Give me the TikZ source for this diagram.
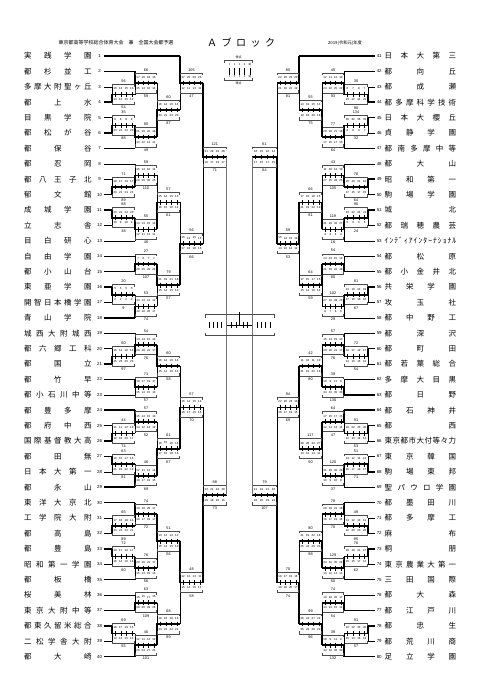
\documentclass[tikz,border=0pt]{standalone}
\usepackage{fontspec}
\setmainfont{Liberation Sans}
\newfontfamily\jp{Noto Sans CJK JP}
\def\sprfirst#1{#1\sprrest}
\def\sprrest#1{\ifx\relax#1\else\hfill#1\expandafter\sprrest\fi}
\tikzset{
 thinl/.style={line width=0.55pt,black},
 thickl/.style={line width=1.6pt,black},
 grayl/.style={line width=0.6pt,black!55},
 boxl/.style={line width=0.4pt,black!70},
 tickl/.style={line width=0.45pt,black},
 qdig/.style={font=\fontsize{2.9}{2.9}\selectfont,inner sep=0},
 sc/.style={font=\fontsize{3.8}{3.8}\selectfont,inner sep=0},
 num/.style={font=\fontsize{4.4}{4.4}\selectfont,inner sep=0},
 nm/.style={font=\jp\fontsize{7.5}{7.5}\selectfont,inner sep=0}
}
\newcommand\teamL[5]{%
 \node[nm,anchor=west] (n#1) at (24,#3) {\hbox to 67.5pt{\sprfirst#2\relax}};
 \node[num] (t#1) at (99.5,#3) {#1};
 \ifnum#5=1 \draw[thickl] (104,#3) -- (#4,#3);\else\draw[thinl] (104,#3) -- (#4,#3);\fi}
\newcommand\teamR[5]{%
 \node[nm,anchor=west] (n#1) at (384.5,#3) {\hbox to 71.5pt{\sprfirst#2\relax}};
 \node[num] (t#1) at (379.2,#3) {#1};
 \ifnum#5=1 \draw[thickl] (374.5,#3) -- (#4,#3);\else\draw[thinl] (374.5,#3) -- (#4,#3);\fi}
\newcommand\qscores[2]{%
 \pgfmathtruncatemacro\qqa{round(#1*0.26)}%
 \pgfmathtruncatemacro\qqb{round(#1*0.24)}%
 \pgfmathtruncatemacro\qqc{round(#1*0.27)}%
 \pgfmathtruncatemacro\qqd{#1-\qqa-\qqb-\qqc}%
 \node[qdig] at ({\mxl+0.14*\mxw},{#2}) {\qqa};
 \node[qdig] at ({\mxl+0.38*\mxw},{#2}) {\qqb};
 \node[qdig] at ({\mxl+0.62*\mxw},{#2}) {\qqc};
 \node[qdig] at ({\mxl+0.86*\mxw},{#2}) {\qqd};}
\newcommand\matchbox[8]{%
 \pgfmathsetmacro\mxl{min(#1,#2)}%
 \pgfmathsetmacro\mxr{max(#1,#2)}%
 \pgfmathsetmacro\mxw{\mxr-\mxl}%
 \draw[thinl] (#1,#3) -- (#1,#4);
 \ifnum#8=1 \draw[thickl] (#1,#3) -- (#1,#5) -- (#2,#5);\else\draw[thickl] (#1,#4) -- (#1,#5) -- (#2,#5);\fi
 \draw[boxl] ({\mxl+0.5},{#5-7.8}) -- ({\mxl+0.5},{#5-10.2}) -- ({\mxr-0.5},{#5-10.2}) -- ({\mxr-0.5},{#5-7.8});
 \draw[boxl] ({\mxl+0.5},{#5+7.4}) -- ({\mxl+0.5},{#5+9.8}) -- ({\mxr-0.5},{#5+9.8}) -- ({\mxr-0.5},{#5+7.4});
 \foreach \f in {0.14,0.38,0.62,0.86} \draw[tickl] ({\mxl+\f*\mxw},{#5-2.4}) -- ({\mxl+\f*\mxw},{#5+2.4});
 \qscores{#6}{#5-5.7}
 \qscores{#7}{#5+5.2}
 \node[sc] at ({(\mxl+\mxr)/2},{#5-13.2}) {#6};
 \node[sc] at ({(\mxl+\mxr)/2},{#5+13.2}) {#7};}
\begin{document}
\begin{tikzpicture}[x=1pt,y=-1pt]
\fill[white] (0,0) rectangle (481,680);
\useasboundingbox (0,0) rectangle (481,680);
% header
\node[font=\jp\fontsize{5}{5}\selectfont,inner sep=0] (hd1) at (116,43) {東京都高等学校総合体育大会　兼　全国大会都予選};
\node[inner sep=0] (hd2) at (241,42.3) {\jp\fontsize{10}{10}\selectfont\hbox to 68pt{\sprfirst Ａブロック\relax}};
\node[inner sep=0,font=\jp\fontsize{4.3}{4.3}\selectfont] (hd3) at (345,43) {2019(令和元)年度};
% legend
\draw[boxl] (224.5,62.5) -- (224.5,60) -- (252.5,60) -- (252.5,62.5);
\draw[boxl] (224.5,77.5) -- (224.5,80) -- (252.5,80) -- (252.5,77.5);
\node[font=\jp\fontsize{3}{3}\selectfont,inner sep=0] (lg1) at (238.5,57) {得点};
\node[font=\jp\fontsize{3}{3}\selectfont,inner sep=0] (lg2) at (238.5,83.3) {得点};
\foreach \x/\t in {229.7/1,234.7/2,239.7/3,244.7/4,250/延} {
 \node[font=\jp\fontsize{2.6}{2.6}\selectfont,inner sep=0] at (\x,65) {\t};
 \draw[tickl] (\x,67.5) -- (\x,74.5);
 \node[font=\jp\fontsize{2.6}{2.6}\selectfont,inner sep=0] at (\x,77) {\t};}
% left teams
\teamL{1}{実践学園}{56.0}{180}{1}
\teamL{2}{都杉並工}{71.4}{135}{1}
\teamL{3}{多摩大附聖ヶ丘}{86.8}{112}{0}
\teamL{4}{都上水}{102.2}{112}{1}
\teamL{5}{目黒学院}{117.6}{112}{0}
\teamL{6}{都松が谷}{133.0}{112}{1}
\teamL{7}{都保谷}{148.4}{135}{0}
\teamL{8}{都忍岡}{163.8}{135}{0}
\teamL{9}{都八王子北}{179.2}{112}{0}
\teamL{10}{郁文館}{194.6}{112}{1}
\teamL{11}{成城学園}{210.0}{112}{1}
\teamL{12}{立志舎}{225.4}{112}{0}
\teamL{13}{目白研心}{240.8}{135}{0}
\teamL{14}{自由学園}{256.2}{135}{0}
\teamL{15}{都小山台}{271.6}{135}{1}
\teamL{16}{東亜学園}{287.0}{112}{1}
\teamL{17}{開智日本橋学園}{302.4}{112}{0}
\teamL{18}{青山学院}{317.8}{135}{1}
\teamL{19}{城西大附城西}{333.2}{135}{0}
\teamL{20}{都六郷工科}{348.6}{112}{0}
\teamL{21}{都国立}{364.0}{112}{1}
\teamL{22}{都竹早}{379.4}{135}{1}
\teamL{23}{都小石川中等}{394.8}{135}{0}
\teamL{24}{都豊多摩}{410.2}{135}{1}
\teamL{25}{都府中西}{425.6}{112}{0}
\teamL{26}{国際基督教大高}{441.0}{112}{1}
\teamL{27}{都田無}{456.4}{112}{1}
\teamL{28}{日本大第一}{471.8}{112}{0}
\teamL{29}{都永山}{487.2}{135}{1}
\teamL{30}{東洋大京北}{502.6}{135}{1}
\teamL{31}{工学院大附}{518.0}{112}{0}
\teamL{32}{都高島}{533.4}{112}{1}
\teamL{33}{都豊島}{548.8}{112}{1}
\teamL{34}{昭和第一学園}{564.2}{112}{0}
\teamL{35}{都板橋}{579.6}{135}{0}
\teamL{36}{桜美林}{595.0}{135}{0}
\teamL{37}{東京大附中等}{610.4}{135}{1}
\teamL{38}{都東久留米総合}{625.8}{112}{1}
\teamL{39}{二松学舎大附}{641.2}{112}{0}
\teamL{40}{都大崎}{656.6}{135}{1}
% right teams
\teamR{41}{日本大第三}{56.0}{299}{1}
\teamR{42}{都向丘}{71.4}{344}{0}
\teamR{43}{都成瀬}{86.8}{368}{0}
\teamR{44}{都多摩科学技術}{102.2}{368}{1}
\teamR{45}{日本大櫻丘}{117.6}{368}{1}
\teamR{46}{貞静学園}{133.0}{368}{0}
\teamR{47}{都南多摩中等}{148.4}{344}{0}
\teamR{48}{都大山}{163.8}{344}{0}
\teamR{49}{昭和第一}{179.2}{368}{1}
\teamR{50}{駒場学園}{194.6}{368}{0}
\teamR{51}{城北}{210.0}{368}{1}
\teamR{52}{都瑞穂農芸}{225.4}{368}{0}
\teamR{53}{ｲﾝﾃﾞｨｱｲﾝﾀｰﾅｼｮﾅﾙ}{240.8}{344}{0}
\teamR{54}{都松原}{256.2}{344}{0}
\teamR{55}{都小金井北}{271.6}{344}{1}
\teamR{56}{共栄学園}{287.0}{368}{1}
\teamR{57}{攻玉社}{302.4}{368}{0}
\teamR{58}{都中野工}{317.8}{344}{0}
\teamR{59}{都深沢}{333.2}{344}{0}
\teamR{60}{都町田}{348.6}{368}{1}
\teamR{61}{都若葉総合}{364.0}{368}{0}
\teamR{62}{多摩大目黒}{379.4}{344}{0}
\teamR{63}{都日野}{394.8}{344}{1}
\teamR{64}{都石神井}{410.2}{344}{1}
\teamR{65}{都西}{425.6}{368}{1}
\teamR{66}{東京都市大付等々力}{441.0}{368}{0}
\teamR{67}{東京韓国}{456.4}{368}{0}
\teamR{68}{駒場東邦}{471.8}{368}{1}
\teamR{69}{聖パウロ学園}{487.2}{344}{0}
\teamR{70}{都墨田川}{502.6}{344}{1}
\teamR{71}{都多摩工}{518.0}{368}{0}
\teamR{72}{麻布}{533.4}{368}{1}
\teamR{73}{桐朋}{548.8}{368}{1}
\teamR{74}{東京農業大第一}{564.2}{368}{0}
\teamR{75}{三田国際}{579.6}{344}{0}
\teamR{76}{都大森}{595.0}{344}{0}
\teamR{77}{都江戸川}{610.4}{344}{1}
\teamR{78}{都忠生}{625.8}{368}{1}
\teamR{79}{都荒川商}{641.2}{368}{0}
\teamR{80}{足立学園}{656.6}{344}{1}
% left matches
\matchbox{112}{135}{86.8}{102.2}{94.5}{56}{54}{2}
\matchbox{135}{157}{71.4}{94.5}{83.0}{66}{59}{1}
\matchbox{112}{135}{117.6}{133.0}{125.3}{35}{88}{2}
\matchbox{135}{157}{125.3}{148.4}{136.9}{80}{49}{1}
\matchbox{157}{180}{83.0}{136.9}{110.0}{60}{87}{2}
\matchbox{180}{203}{56.0}{110.0}{83.0}{105}{47}{1}
\matchbox{112}{135}{179.2}{194.6}{186.9}{71}{89}{2}
\matchbox{135}{157}{163.8}{186.9}{175.4}{59}{110}{2}
\matchbox{112}{135}{210.0}{225.4}{217.7}{88}{38}{1}
\matchbox{135}{157}{217.7}{240.8}{229.3}{55}{46}{1}
\matchbox{157}{180}{175.4}{229.3}{202.3}{57}{61}{2}
\matchbox{135}{157}{256.2}{271.6}{263.9}{27}{107}{2}
\matchbox{112}{135}{287.0}{302.4}{294.7}{20}{9}{1}
\matchbox{135}{157}{294.7}{317.8}{306.3}{53}{74}{2}
\matchbox{157}{180}{263.9}{306.3}{285.1}{79}{57}{1}
\matchbox{180}{203}{202.3}{285.1}{243.7}{56}{66}{2}
\matchbox{203}{226.5}{83.0}{243.7}{157}{121}{71}{1}
\matchbox{112}{135}{348.6}{364.0}{356.3}{60}{97}{2}
\matchbox{135}{157}{333.2}{356.3}{344.8}{54}{76}{2}
\matchbox{135}{157}{379.4}{394.8}{387.1}{71}{57}{1}
\matchbox{157}{180}{344.8}{387.1}{366.0}{60}{58}{1}
\matchbox{112}{135}{425.6}{441.0}{433.3}{44}{74}{2}
\matchbox{135}{157}{410.2}{433.3}{421.8}{57}{52}{1}
\matchbox{112}{135}{456.4}{471.8}{464.1}{63}{81}{1}
\matchbox{135}{157}{464.1}{487.2}{475.7}{46}{69}{2}
\matchbox{157}{180}{421.8}{475.7}{448.7}{61}{67}{2}
\matchbox{180}{203}{366.0}{448.7}{407.4}{57}{70}{2}
\matchbox{112}{135}{518.0}{533.4}{525.7}{65}{89}{2}
\matchbox{135}{157}{502.6}{525.7}{514.2}{74}{72}{1}
\matchbox{112}{135}{548.8}{564.2}{556.5}{72}{60}{1}
\matchbox{135}{157}{556.5}{579.6}{568.1}{76}{56}{1}
\matchbox{157}{180}{514.2}{568.1}{541.2}{51}{56}{1}
\matchbox{135}{157}{595.0}{610.4}{602.7}{63}{109}{2}
\matchbox{112}{135}{625.8}{641.2}{633.5}{69}{55}{1}
\matchbox{135}{157}{633.5}{656.6}{645.1}{46}{101}{2}
\matchbox{157}{180}{602.7}{645.1}{623.9}{68}{89}{2}
\matchbox{180}{203}{541.2}{623.9}{582.6}{48}{58}{1}
\matchbox{203}{226.5}{407.4}{582.6}{495.0}{88}{73}{2}
% right matches
\matchbox{368}{344}{86.8}{102.2}{94.5}{30}{90}{2}
\matchbox{344}{322}{71.4}{94.5}{83.0}{45}{93}{2}
\matchbox{368}{344}{117.6}{133.0}{125.3}{134}{32}{1}
\matchbox{344}{322}{125.3}{148.4}{136.9}{77}{64}{1}
\matchbox{322}{299}{83.0}{136.9}{110.0}{55}{75}{2}
\matchbox{299}{277}{56.0}{110.0}{83.0}{85}{81}{1}
\matchbox{368}{344}{179.2}{194.6}{186.9}{78}{64}{1}
\matchbox{344}{322}{163.8}{186.9}{175.4}{43}{105}{2}
\matchbox{368}{344}{210.0}{225.4}{217.7}{90}{24}{1}
\matchbox{344}{322}{217.7}{240.8}{229.3}{119}{16}{1}
\matchbox{322}{299}{175.4}{229.3}{202.3}{66}{81}{2}
\matchbox{344}{322}{256.2}{271.6}{263.9}{54}{80}{2}
\matchbox{368}{344}{287.0}{302.4}{294.7}{81}{67}{1}
\matchbox{344}{322}{294.7}{317.8}{306.3}{102}{29}{1}
\matchbox{322}{299}{263.9}{306.3}{285.1}{64}{59}{1}
\matchbox{299}{277}{202.3}{285.1}{243.7}{59}{53}{1}
\matchbox{277}{252}{83.0}{243.7}{157}{61}{64}{2}
\matchbox{368}{344}{348.6}{364.0}{356.3}{72}{54}{1}
\matchbox{344}{322}{333.2}{356.3}{344.8}{57}{76}{2}
\matchbox{344}{322}{379.4}{394.8}{387.1}{39}{130}{2}
\matchbox{322}{299}{344.8}{387.1}{366.0}{42}{80}{2}
\matchbox{368}{344}{425.6}{441.0}{433.3}{91}{53}{1}
\matchbox{344}{322}{410.2}{433.3}{421.8}{64}{47}{1}
\matchbox{368}{344}{456.4}{471.8}{464.1}{51}{71}{2}
\matchbox{344}{322}{464.1}{487.2}{475.7}{120}{37}{1}
\matchbox{322}{299}{421.8}{475.7}{448.7}{117}{50}{1}
\matchbox{299}{277}{366.0}{448.7}{407.4}{84}{69}{1}
\matchbox{368}{344}{518.0}{533.4}{525.7}{49}{85}{2}
\matchbox{344}{322}{502.6}{525.7}{514.2}{78}{70}{1}
\matchbox{368}{344}{548.8}{564.2}{556.5}{76}{62}{1}
\matchbox{344}{322}{556.5}{579.6}{568.1}{129}{50}{1}
\matchbox{322}{299}{514.2}{568.1}{541.2}{80}{98}{2}
\matchbox{344}{322}{595.0}{610.4}{602.7}{74}{54}{2}
\matchbox{368}{344}{625.8}{641.2}{633.5}{91}{57}{1}
\matchbox{344}{322}{633.5}{656.6}{645.1}{39}{132}{2}
\matchbox{322}{299}{602.7}{645.1}{623.9}{99}{96}{2}
\matchbox{299}{277}{541.2}{623.9}{582.6}{70}{74}{2}
\matchbox{277}{252}{407.4}{582.6}{495.0}{79}{107}{2}
% final
\draw[grayl] (226.5,157) -- (226.5,495);
\draw[grayl] (252,157) -- (252,495);
\draw[boxl] (205,317.5) -- (205,314.5) -- (274,314.5) -- (274,317.5);
\draw[boxl] (205,332.5) -- (205,335.5) -- (274,335.5) -- (274,332.5);
\draw[thinl] (226.5,325) -- (252,325);
\draw[thinl] (239.3,325) -- (239.3,311.5);
\foreach \x in {209.3,213.3,217.3,221.3,231.5,236,243,247.5,257.3,261.5,265.7,270}
 \draw[tickl] (\x,322.3) -- (\x,327.7);
\end{tikzpicture}
\end{document}
